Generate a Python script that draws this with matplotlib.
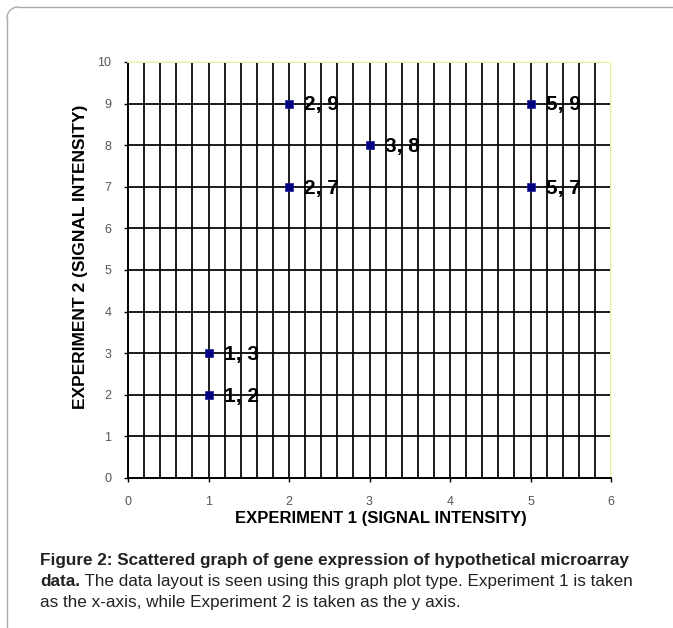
import matplotlib.pyplot as plt
import numpy as np

# data points (experiment 1, experiment 2)
exp1 = [1, 1, 2, 2, 3, 5, 5]
exp2 = [2, 3, 7, 9, 8, 7, 9]
point_labels = ["1, 2", "1, 3", "2, 7", "2, 9", "3, 8", "5, 7", "5, 9"]

x_ticks = [0, 1, 2, 3, 4, 5, 6]
y_ticks = [0, 1, 2, 3, 4, 5, 6, 7, 8, 9, 10]

caption_bold = "Figure 2: Scattered graph of gene expression of hypothetical microarray"
caption_l2_bold = "data."
caption_l2 = " The data layout is seen using this graph plot type. Experiment 1 is taken"
caption_l3 = "as the x-axis, while Experiment 2 is taken as the y axis."

plt.rcParams['font.family'] = ['Liberation Sans', 'DejaVu Sans']

W, H = 673, 628
fig = plt.figure(figsize=(W / 100, H / 100), dpi=100)

# outer frame (top and left edges, rounded corner)
frame = fig.add_axes([0, 0, 1, 1], zorder=-1)
frame.set_xlim(0, W)
frame.set_ylim(H, 0)
frame.axis('off')
frame.plot([7, 7], [H, 18], color='#aaaaaa', lw=1)
frame.plot([18, W], [7, 7], color='#aaaaaa', lw=1)
t = np.linspace(np.pi, 1.5 * np.pi, 20)
frame.plot(18 + 11 * np.cos(t), 18 + 11 * np.sin(t), color='#aaaaaa', lw=1)

ax = fig.add_axes([128 / W, 150 / H, 483 / W, 416 / H])
ax.set_xlim(0, 6)
ax.set_ylim(0, 10)

# grid: vertical every 0.2, horizontal every 1
for gx in np.arange(0.2, 6.01, 0.2):
    ax.axvline(gx, color='black', lw=1.25, zorder=1)
for gy in y_ticks[1:]:
    ax.axhline(gy, color='black', lw=1.25, zorder=1)

ax.scatter(exp1, exp2, marker='s', s=36, color='#000080', edgecolors='#2020a0',
           linewidths=0.5, zorder=3)
for x, y, lab in zip(exp1, exp2, point_labels):
    ax.annotate(lab, (x, y), xytext=(11, -1), textcoords='offset points',
                ha='left', va='center', fontsize=15, fontweight='bold', zorder=4)

ax.set_xticks(x_ticks)
ax.set_yticks(y_ticks)
ax.tick_params(axis='x', length=3, width=1, pad=10, labelsize=9, labelcolor='#555555')
ax.tick_params(axis='y', length=3, width=1, pad=9, labelsize=9, labelcolor='#555555')
for s in ['left', 'bottom']:
    ax.spines[s].set_linewidth(1.4)
for s in ['top', 'right']:
    ax.spines[s].set_color('#ffffc8')
    ax.spines[s].set_linewidth(1.3)

ax.set_xlabel("EXPERIMENT 1 (SIGNAL INTENSITY)", fontsize=12, fontweight='bold')
ax.xaxis.set_label_coords(0.524, -0.08)
ax.set_ylabel("EXPERIMENT 2 (SIGNAL INTENSITY)", fontsize=12.5, fontweight='bold')
ax.yaxis.set_label_coords(-0.082, 0.531)

# caption
cap_size = 12.3
cap_color = '#222222'
x0 = 40 / W
fig.text(x0, 1 - 565 / H, caption_bold, fontsize=cap_size, fontweight='bold',
         va='baseline', color=cap_color)
t1 = fig.text(x0, 1 - 586 / H, caption_l2_bold, fontsize=cap_size, fontweight='bold',
              va='baseline', color=cap_color)
fig.text(x0, 1 - 607 / H, caption_l3, fontsize=cap_size, va='baseline', color=cap_color)

# place the regular part right after the bold word
fig.canvas.draw()
bb = t1.get_window_extent(fig.canvas.get_renderer())
fig.text(bb.x1 / fig.bbox.width, 1 - 586 / H, caption_l2, fontsize=cap_size,
         va='baseline', color=cap_color)

fig.savefig("out.png", dpi=100)
